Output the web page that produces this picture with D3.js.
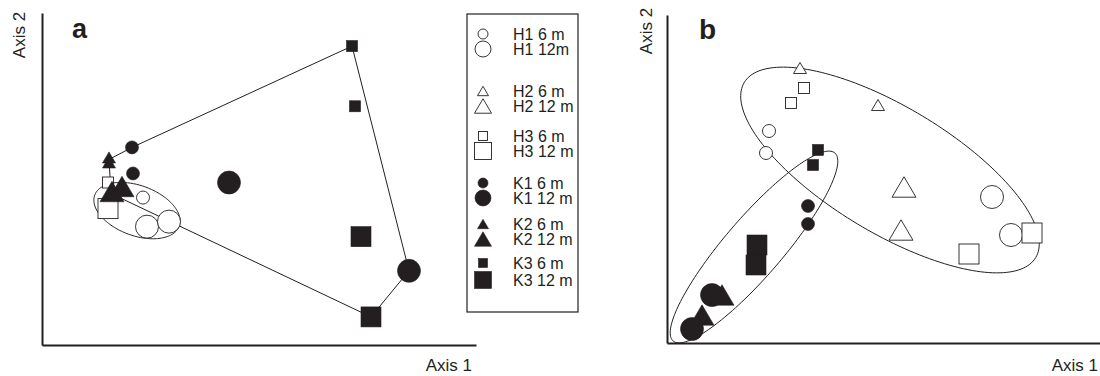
<!DOCTYPE html>
<html><head><meta charset="utf-8">
<script src="https://cdn.jsdelivr.net/npm/d3@7"></script>
<style>body{margin:0;background:#fff}svg{display:block}text{font-family:"Liberation Sans",Arial,Helvetica,sans-serif;fill:#231f20}</style>
</head><body>
<script>
// ---- data ----
const groups = ["H1 6 m","H1 12m","H2 6 m","H2 12 m","H3 6 m","H3 12 m","K1 6 m","K1 12 m","K2 6 m","K2 12 m","K3 6 m","K3 12 m"];
// panel a ordination scores (axis units)
const pointsA = [
  {g:"K1 12 m", x:187, y:162},
  {g:"H1 6 m", x:101, y:147},
  {g:"H1 12m", x:105, y:118},
  {g:"H1 12m", x:127, y:123},
  {g:"H3 6 m", x:66, y:162},
  {g:"H3 12 m", x:66, y:136},
  {g:"K2 6 m", x:67, y:187},
  {g:"K2 6 m", x:67, y:182},
  {g:"K2 12 m", x:70, y:153},
  {g:"K2 12 m", x:80, y:158},
  {g:"K1 6 m", x:90, y:197},
  {g:"K1 6 m", x:91, y:171},
  {g:"K1 12 m", x:367, y:74},
  {g:"K3 6 m", x:310, y:298},
  {g:"K3 6 m", x:313, y:238},
  {g:"K3 12 m", x:319, y:108},
  {g:"K3 12 m", x:329, y:28}
];
// hull vertices of K samples in panel a (axis units)
const hullA = [[67,185],[90,197],[310,298],[367,74],[329,28],[69,151]];
// ellipse of H samples in panel a: centre, semi-axes, angle (deg)
const ellipseA = {cx:95, cy:134, a:45, b:25, angle:-20};

// panel b ordination scores (axis units)
const pointsB = [
  {g:"H1 6 m", x:102, y:212},
  {g:"H1 6 m", x:99, y:190},
  {g:"H1 12m", x:325, y:146},
  {g:"H1 12m", x:344, y:108},
  {g:"H2 6 m", x:133, y:275},
  {g:"H2 6 m", x:211, y:238},
  {g:"H2 12 m", x:237, y:156},
  {g:"H2 12 m", x:234, y:113},
  {g:"H3 6 m", x:137, y:255},
  {g:"H3 6 m", x:124, y:240},
  {g:"H3 12 m", x:365, y:110},
  {g:"H3 12 m", x:302, y:89},
  {g:"K1 6 m", x:141, y:137},
  {g:"K1 6 m", x:141, y:119},
  {g:"K2 12 m", x:35, y:28},
  {g:"K1 12 m", x:45, y:48},
  {g:"K2 12 m", x:55, y:48},
  {g:"K1 12 m", x:25, y:14},
  {g:"K3 6 m", x:151, y:193},
  {g:"K3 6 m", x:146, y:178},
  {g:"K3 12 m", x:90, y:98},
  {g:"K3 12 m", x:89, y:78}
];
const ellipsesB = [
  {cx:223, cy:173, a:170, b:63, angle:-31},
  {cx:87, cy:96, a:124, b:29, angle:49.3}
];
const axisLabels = ["Axis 1","Axis 2"];
const panelLabels = ["a","b"];

// ---- styles ----
const INK = "#231f20";
const shapeOf = g => g.startsWith("H1")||g.startsWith("K1") ? "circle" : (g.startsWith("H2")||g.startsWith("K2") ? "triangle" : "square");
const filledOf = g => g[0]==="K";
const bigOf = g => g.includes("12");
const plotSize = {circle:[6.5,11.5], square:[11,20], triangle:[13,24]};
const legSize = {circle:[5,8], square:[9,17], triangle:[11,17]};

const svg = d3.select("body").append("svg").attr("width",1100).attr("height",376);

function marker(sel, g, x, y, sizes){
  const sh = shapeOf(g), big = bigOf(g)?1:0, s = sizes[sh][big];
  const fill = filledOf(g) ? INK : "#fff";
  let el;
  if(sh==="circle") el = sel.append("circle").attr("cx",x).attr("cy",y).attr("r",s);
  else if(sh==="square") el = sel.append("rect").attr("x",x-s/2).attr("y",y-s/2).attr("width",s).attr("height",s);
  else { const h = s*0.85; el = sel.append("path").attr("d",`M${x},${y-h/2}L${x+s/2},${y+h/2}L${x-s/2},${y+h/2}Z`); }
  el.attr("fill",fill).attr("stroke",INK).attr("stroke-width",filledOf(g)?0.6:0.9);
}

function ellipsePath(e, xs, ys){
  const t = e.angle*Math.PI/180, pts=[];
  for(let i=0;i<=180;i++){
    const p = i/180*2*Math.PI;
    const ex = e.a*Math.cos(p), ey = e.b*Math.sin(p);
    pts.push([xs(e.cx + ex*Math.cos(t) - ey*Math.sin(t)), ys(e.cy + ex*Math.sin(t) + ey*Math.cos(t))]);
  }
  return d3.line()(pts)+"Z";
}

function axes(g, xs, ys){
  const ax = g.append("g").attr("transform",`translate(0,${ys.range()[0]})`).call(d3.axisBottom(xs).tickValues([]).tickSizeOuter(0));
  const ay = g.append("g").attr("transform",`translate(${xs.range()[0]},0)`).call(d3.axisLeft(ys).tickValues([]).tickSizeOuter(0));
  [ax,ay].forEach(a=>a.select(".domain").attr("stroke",INK).attr("stroke-width",2));
}

// ---- panel a ----
const xa = d3.scaleLinear().domain([0,434]).range([42,476]);
const ya = d3.scaleLinear().domain([0,331]).range([345,13]);
const ga = svg.append("g");
axes(ga, xa, ya);
ga.append("path").attr("d", d3.line()(hullA.map(d=>[xa(d[0]),ya(d[1])]))+"Z").attr("fill","none").attr("stroke",INK).attr("stroke-width",1);
ga.append("path").attr("d", ellipsePath(ellipseA, xa, ya)).attr("fill","none").attr("stroke",INK).attr("stroke-width",1);
pointsA.forEach(d=>marker(ga, d.g, xa(d.x), ya(d.y), plotSize));
ga.append("text").attr("x",72).attr("y",38).attr("font-size",27).attr("font-weight","bold").text(panelLabels[0]);
ga.append("text").attr("x",472).attr("y",371).attr("text-anchor","end").attr("font-size",17).text(axisLabels[0]);
ga.append("text").attr("transform","translate(25,35) rotate(-90)").attr("text-anchor","middle").attr("font-size",17).text(axisLabels[1]);

// legend
const lg = svg.append("g");
lg.append("rect").attr("x",467).attr("y",14).attr("width",111).attr("height",298).attr("fill","#fff").attr("stroke",INK).attr("stroke-width",1.2);
const rowY = [34,49,91,106,136,151,183,198,224,239,263,280];
groups.forEach((g,i)=>{
  marker(lg, g, 483, rowY[i], legSize);
  lg.append("text").attr("x",513).attr("y",rowY[i]+5.5).attr("font-size",16).text(g);
});

// ---- panel b ----
const xb = d3.scaleLinear().domain([0,433]).range([667,1100]);
const yb = d3.scaleLinear().domain([0,328]).range([343,15]);
const gb = svg.append("g");
axes(gb, xb, yb);
ellipsesB.forEach(e=>gb.append("path").attr("d", ellipsePath(e, xb, yb)).attr("fill","none").attr("stroke",INK).attr("stroke-width",1));
pointsB.forEach(d=>marker(gb, d.g, xb(d.x), yb(d.y), plotSize));
gb.append("text").attr("x",699).attr("y",39).attr("font-size",28).attr("font-weight","bold").text(panelLabels[1]);
gb.append("text").attr("x",1098).attr("y",371).attr("text-anchor","end").attr("font-size",17).text(axisLabels[0]);
gb.append("text").attr("transform","translate(652,31) rotate(-90)").attr("text-anchor","middle").attr("font-size",17).text(axisLabels[1]);
</script>
</body></html>
